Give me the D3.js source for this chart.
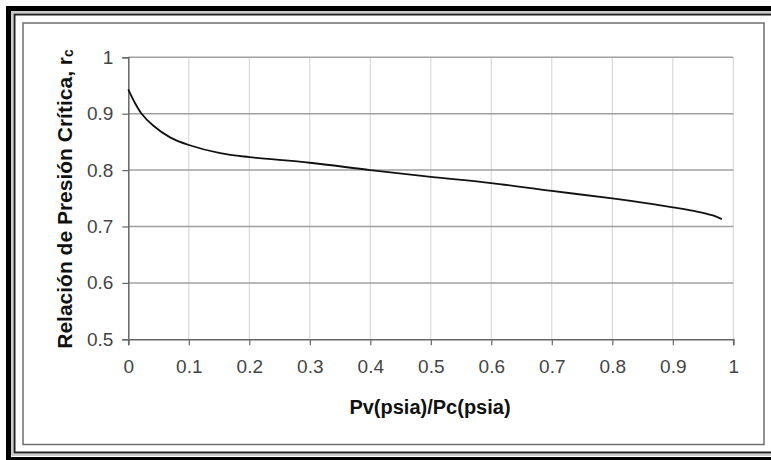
<!DOCTYPE html>
<html>
<head>
<meta charset="utf-8">
<script src="https://cdn.jsdelivr.net/npm/d3@7"></script>
<style>
  html, body { margin: 0; padding: 0; background: #fff; }
  svg { display: block; }
</style>
</head>
<body>
<svg id="chart" width="771" height="460"></svg>
<script>
// ---- Data ----
const pvPc = [0, 0.01, 0.022, 0.041, 0.069, 0.1, 0.152, 0.2, 0.3, 0.4, 0.5, 0.6, 0.7, 0.8, 0.85, 0.9, 0.94, 0.965, 0.981];
const rc   = [0.943, 0.921, 0.900, 0.879, 0.858, 0.8445, 0.830, 0.823, 0.813, 0.800, 0.788, 0.777, 0.763, 0.750, 0.7425, 0.734, 0.7265, 0.720, 0.713];
const xTicks = [0, 0.1, 0.2, 0.3, 0.4, 0.5, 0.6, 0.7, 0.8, 0.9, 1];
const yTicks = [0.5, 0.6, 0.7, 0.8, 0.9, 1];
const xTitle = "Pv(psia)/Pc(psia)";
const yTitle = "Relación de Presión Crítica, r";
const yTitleSub = "c";

const svg = d3.select("#chart");
const W = 771, H = 460;

// ---- Frames ----
svg.append("rect").attr("x", 0).attr("y", 0).attr("width", W).attr("height", H).attr("fill", "#fff");
svg.append("rect").attr("x", 8.5).attr("y", 8.5).attr("width", W + 20).attr("height", 451)
  .attr("fill", "none").attr("stroke", "#000").attr("stroke-width", 5);
svg.append("rect").attr("x", 12).attr("y", 12).attr("width", W + 20).attr("height", 443)
  .attr("fill", "none").attr("stroke", "#9a9a9a").attr("stroke-width", 1);
svg.append("rect").attr("x", 14.5).attr("y", 14.5).attr("width", W + 20).attr("height", 438)
  .attr("fill", "none").attr("stroke", "#222").attr("stroke-width", 2);
svg.append("rect").attr("x", 23).attr("y", 23).attr("width", 741).attr("height", 421.5)
  .attr("fill", "#fff").attr("stroke", "#6e6e6e").attr("stroke-width", 1.5);

// ---- Scales ----
const x = d3.scaleLinear().domain([0, 1]).range([128.3, 733.3]);
const y = d3.scaleLinear().domain([0.5, 1]).range([339.3, 57.3]);

// vertical gridlines
svg.append("g").selectAll("line").data(xTicks.filter(d => d > 0)).join("line")
  .attr("x1", d => x(d)).attr("x2", d => x(d))
  .attr("y1", y(1)).attr("y2", y(0.5))
  .attr("stroke", "#d2d2d2").attr("stroke-width", 1);

// horizontal gridlines
svg.append("g").selectAll("line").data(yTicks.filter(d => d > 0.5)).join("line")
  .attr("x1", x(0)).attr("x2", x(1))
  .attr("y1", d => y(d)).attr("y2", d => y(d))
  .attr("stroke", "#a0a0a0").attr("stroke-width", 1.5);

// ---- Axes ----
const tickFmt = d => d3.format("")(+d.toFixed(1));
const xAxis = svg.append("g").attr("transform", `translate(0,${y(0.5)})`)
  .call(d3.axisBottom(x).tickValues(xTicks).tickSize(6).tickPadding(14).tickFormat(tickFmt));
const yAxis = svg.append("g").attr("transform", `translate(${x(0)},0)`)
  .call(d3.axisLeft(y).tickValues(yTicks).tickSize(6).tickPadding(9).tickFormat(tickFmt));

[xAxis, yAxis].forEach(g => {
  g.select(".domain").attr("stroke", "#666").attr("stroke-width", 1.5);
  g.selectAll(".tick line").attr("stroke", "#666").attr("stroke-width", 1.2);
  g.selectAll(".tick text")
    .attr("font-family", "'Liberation Sans', Arial, sans-serif")
    .attr("font-size", 19).attr("fill", "#444");
});

// ---- Curve ----
const pts = pvPc.map((v, i) => [v, rc[i]]);
svg.append("path").datum(pts)
  .attr("fill", "none").attr("stroke", "#111").attr("stroke-width", 1.8)
  .attr("d", d3.line().x(d => x(d[0])).y(d => y(d[1])).curve(d3.curveCatmullRom.alpha(0.5)));

// ---- Titles ----
svg.append("text")
  .attr("x", 430).attr("y", 414).attr("text-anchor", "middle")
  .attr("font-family", "'Liberation Sans', Arial, sans-serif")
  .attr("font-weight", "bold").attr("font-size", 20).attr("fill", "#111")
  .text(xTitle);

const yt = svg.append("text")
  .attr("transform", "translate(71.5,199) rotate(-90)")
  .attr("text-anchor", "middle")
  .attr("font-family", "'Liberation Sans', Arial, sans-serif")
  .attr("font-weight", "bold").attr("font-size", 21).attr("fill", "#111");
yt.append("tspan").text(yTitle);
yt.append("tspan").attr("font-size", 14).attr("dy", 1).text(yTitleSub);
</script>
</body>
</html>
